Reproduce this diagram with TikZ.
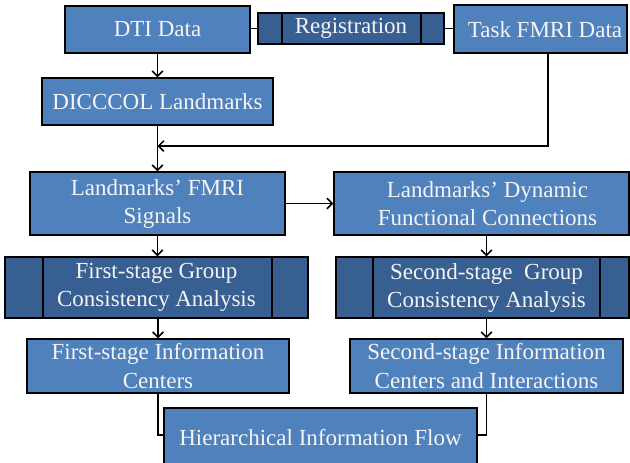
\documentclass[tikz,border=0pt]{standalone}
\usepackage{fontspec}
\setmainfont{Liberation Serif}
\usetikzlibrary{arrows.meta,calc}
\definecolor{boxlight}{HTML}{4F81BD}
\definecolor{boxdark}{HTML}{385F91}
\definecolor{txtc}{HTML}{F4F4F4}
\begin{document}
\begin{tikzpicture}[x=0.75pt,y=-0.75pt,
  txtstyle/.style={text=txtc, font=\fontsize{17.25}{21}\selectfont, align=center, inner sep=0pt},
  lbox/.style={draw=black, line width=1.1pt, fill=boxlight, txtstyle, minimum width=#1},
  dbox/.style={draw=black, line width=1.1pt, fill=boxdark, txtstyle, minimum width=#1},
  divider/.style={draw=black, line width=1.1pt},
  conn/.style={draw=black, line width=1.1pt},
  arr/.style={conn, -{Straight Barb[length=4pt,width=8pt]}}]
\useasboundingbox (0,0) rectangle (630,462);
\clip (0,0) rectangle (630,462);

% boxes
\node[lbox=138.75pt, minimum height=35.25pt] (dti) at (157.5,29.5) {DTI Data};
\node[dbox=139.5pt, minimum height=23.25pt] (reg) at (351,28.5) {Registration};
\draw[divider] (282,13) -- (282,44);
\draw[divider] (421,13) -- (421,44);
\node[lbox=129.75pt, minimum height=36pt] (task) at (540.5,29) {};
\node[txtstyle] (taskt) at (545,29.5) {Task FMRI Data};

\node[lbox=173.25pt, minimum height=35.25pt] (dic) at (157.5,101.5) {DICCCOL Landmarks};

\node[lbox=191.25pt, minimum height=47.25pt] (lfm) at (157.5,203.5) {Landmarks’ FMRI\\Signals};
\node[lbox=221.25pt, minimum height=47.25pt] (ldf) at (481.5,203.5) {};
\node[txtstyle] (ldft) at (487.5,203.5) {Landmarks’ Dynamic\\Functional Connections};

\node[dbox=227.25pt, minimum height=45.75pt] (fsg) at (156.5,287.5) {First-stage Group\\Consistency Analysis};
\draw[divider] (43,257) -- (43,318);
\draw[divider] (272,257) -- (272,318);
\node[dbox=219.75pt, minimum height=45.75pt] (ssg) at (482.5,287.5) {};
\node[txtstyle] (ssgt) at (486.5,287.5) {Second-stage\ \ Group\\Consistency Analysis};
\draw[divider] (373,257) -- (373,318);
\draw[divider] (600,257) -- (600,318);

\node[lbox=196.5pt, minimum height=40.5pt] (fsi) at (158,366) {First-stage Information\\Centers};
\node[lbox=204.75pt, minimum height=40.5pt] (ssi) at (486.5,366) {Second-stage Information\\Centers and Interactions};

\node[lbox=234.75pt, minimum height=43.5pt] (hif) at (320.5,437) {Hierarchical Information Flow};

% connectors
\draw[conn] (reg.west) -- (reg.west -| dti.east);
\draw[conn] (reg.east) -- (reg.east -| task.west);
\draw[arr] (dti.south) -- (dic.north);
\draw[arr] (dic.south) -- (lfm.north);
\coordinate (tbend) at (548,146);
\coordinate (tjoin) at (157.5,146);
\draw[arr] (task.south -| tbend) -- (tbend) -- (tjoin);
\draw[arr] (lfm.east) -- (lfm.east -| ldf.west);
\draw[arr] (lfm.south) -- (lfm.south |- fsg.north);
\draw[arr] (ldf.south -| ssgt) -- (ssgt |- ssg.north);
\draw[arr] (fsg.south -| fsi.north) -- (fsi.north);
\draw[arr] (ssg.south -| ssi.north) -- (ssi.north);
\draw[conn] (fsi.south) |- ([yshift=1.5pt]hif.west);
\draw[conn] (ssi.south) |- ([yshift=1.5pt]hif.east);
\end{tikzpicture}
\end{document}
